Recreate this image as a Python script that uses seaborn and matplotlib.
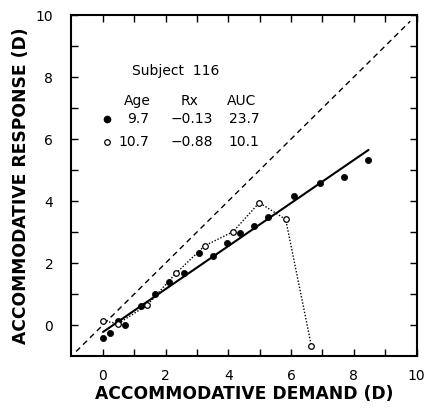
import numpy as np
import matplotlib
matplotlib.use('Agg')
import matplotlib.pyplot as plt
import pandas as pd
import seaborn as sns

# first visit (age 9.7), filled dots
demand_1 = [0.0, 0.24, 0.48, 0.72, 1.21, 1.68, 2.12, 2.59, 3.07, 3.51, 3.96,
            4.36, 4.83, 5.27, 6.08, 6.91, 7.68, 8.47]
response_1 = [-0.41, -0.25, 0.12, 0.0, 0.61, 0.99, 1.38, 1.69, 2.31, 2.24, 2.64,
              2.96, 3.19, 3.49, 4.17, 4.57, 4.78, 5.32]

# second visit (age 10.7), open dots joined by dotted line
demand_2 = [0.0, 0.49, 1.42, 2.33, 3.25, 4.15, 4.99, 5.83, 6.65]
response_2 = [0.14, 0.05, 0.65, 1.67, 2.56, 3.01, 3.95, 3.41, -0.67]

# fitted line for the first visit (end points)
fit_x = [0.01, 8.47]
fit_y = [-0.22, 5.65]

# 1:1 line
unity = [-0.85, 9.8]

legend_rows = [('9.7', '\u22120.13', '23.7'), ('10.7', '\u22120.88', '10.1')]

sns.set_style('ticks')
plt.rcParams['font.family'] = ['DejaVu Sans']
plt.rcParams['text.color'] = 'black'
plt.rcParams['axes.labelcolor'] = 'black'
plt.rcParams['xtick.color'] = 'black'
plt.rcParams['ytick.color'] = 'black'

df1 = pd.DataFrame({'demand': demand_1, 'response': response_1})
df2 = pd.DataFrame({'demand': demand_2, 'response': response_2})

fig = plt.figure(figsize=(4.25, 4.18), dpi=100)
ax = fig.add_axes([0.168, 0.148, 0.812, 0.816])

ax.plot(unity, unity, color='black', linestyle=(0, (4, 3)), linewidth=1.0)
sns.lineplot(x=fit_x, y=fit_y, color='black', linewidth=1.5, ax=ax)
sns.lineplot(data=df2, x='demand', y='response', color='black', linewidth=1.0,
             linestyle=(0, (1, 1.3)), estimator=None, sort=False, ax=ax)
sns.scatterplot(data=df1, x='demand', y='response', color='black', s=20,
                edgecolor='black', linewidth=0.5, ax=ax, zorder=5)
sns.scatterplot(data=df2, x='demand', y='response', facecolor='white', s=16,
                edgecolor='black', linewidth=0.9, ax=ax, zorder=6)

ax.set_xlim(-1, 10)
ax.set_ylim(-1, 10)
ax.set_xticks([0, 2, 4, 6, 8, 10])
ax.set_yticks([0, 2, 4, 6, 8, 10])
ax.set_xticks([1, 3, 5, 7, 9], minor=True)
ax.set_yticks([1, 3, 5, 7, 9], minor=True)
ax.tick_params(which='both', direction='in', top=True, right=True,
               length=5, width=1.0, color='black', labelsize=10)
ax.tick_params(axis='y', which='major', pad=13)
ax.tick_params(axis='x', which='major', pad=9)
for s in ax.spines.values():
    s.set_linewidth(1.5)
    s.set_color('black')

ax.set_xlabel('ACCOMMODATIVE DEMAND (D)', fontsize=12.3, fontweight='bold', labelpad=2)
ax.set_ylabel('ACCOMMODATIVE RESPONSE (D)', fontsize=12.3, fontweight='bold', labelpad=4)

# legend block
fs = 10
ax.text(0.93, 8.19, 'Subject  116', fontsize=fs, ha='left', va='center')
ax.text(1.52, 7.24, 'Age', fontsize=fs, ha='right', va='center')
ax.text(2.78, 7.24, 'Rx', fontsize=fs, ha='center', va='center')
ax.text(3.95, 7.24, 'AUC', fontsize=fs, ha='left', va='center')
row_y = [6.64, 5.89]
ax.plot([0.14], [row_y[0]], 'o', color='black', markersize=4.5)
ax.plot([0.14], [row_y[1]], 'o', markerfacecolor='white', markeredgecolor='black',
        markersize=4, markeredgewidth=0.9)
for (age, rx, auc), yy in zip(legend_rows, row_y):
    ax.text(1.49, yy, age, fontsize=fs, ha='right', va='center')
    ax.text(3.51, yy, rx, fontsize=fs, ha='right', va='center')
    ax.text(4.99, yy, auc, fontsize=fs, ha='right', va='center')

fig.savefig('out.png', dpi=100)
